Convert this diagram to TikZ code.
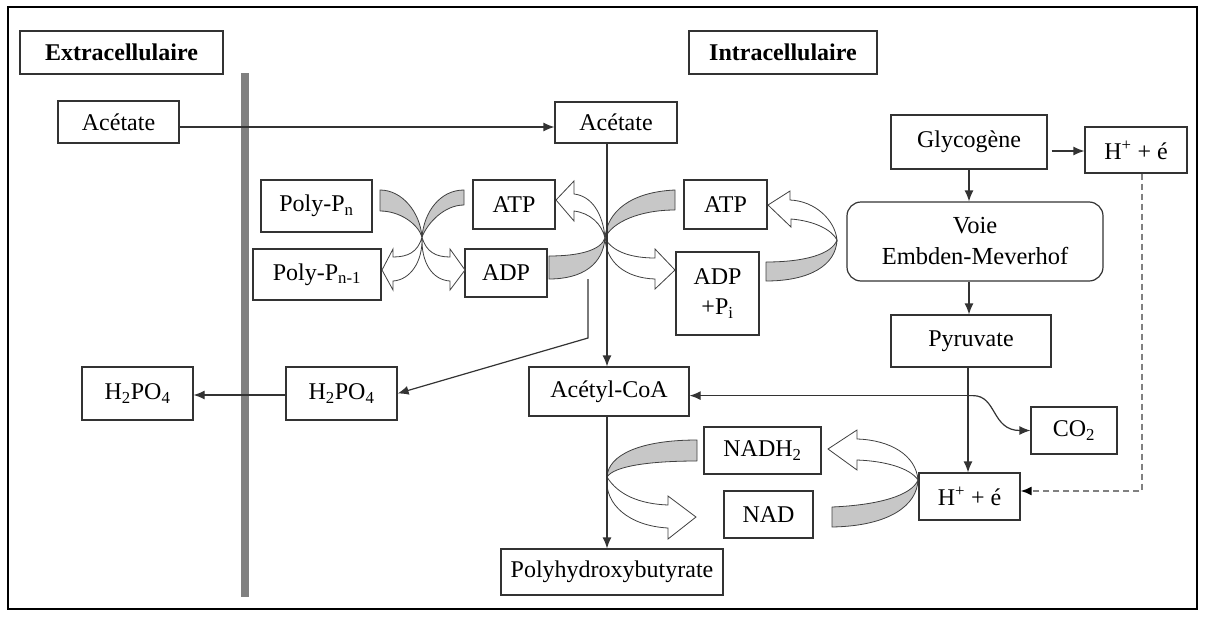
\documentclass[tikz,border=0pt]{standalone}
\usepackage{fontspec}
\setmainfont{Liberation Serif}
\usetikzlibrary{arrows.meta,calc}
\newcommand\bodyfont{\fontsize{24}{27}\selectfont}
\begin{document}
\begin{tikzpicture}[x=1pt,y=-1pt,
  box/.style={draw=black!80, line width=1.2pt, fill=white, inner sep=0pt,
              font=\bodyfont, align=center},
  roundbox/.style={box, rounded corners=14pt},
  conn/.style={draw=black!80, line width=1.2pt, -{Latex[length=11pt,width=9pt]}},
  hint/.style={draw=black!50, line width=1.8pt, dash pattern=on 6pt off 4pt,
               -{Latex[length=11pt,width=9pt,color=black]}},
  band/.style={fill=black!22, draw=black!75, line width=0.8pt, line join=round},
  arrowfront/.style={fill=white, draw=black!75, line width=0.8pt, line join=miter},
]
\useasboundingbox (0,0) rectangle (1205,616);
\draw[line width=2.5pt] (8,7) rectangle (1197,609);

% cell membrane
\fill[black!50] (241,73) rectangle (249,597);

% compartments
\node[box, minimum width=203pt, minimum height=43pt, font=\bodyfont\bfseries] (extra) at (121.5,52.5) {Extracellulaire};
\node[box, minimum width=188pt, minimum height=43pt, font=\bodyfont\bfseries] (intra) at (783,52.5) {Intracellulaire};

% metabolites
\node[box, minimum width=121pt, minimum height=42pt] (acL) at (118.5,122) {Acétate};
\node[box, minimum width=122pt, minimum height=41pt] (acR) at (616,122.5) {Acétate};
\node[box, minimum width=156pt, minimum height=54pt] (glyco) at (969,142) {Glycogène};
\node[box, minimum width=102pt, minimum height=46pt] (hTop) at (1136,150) {H\textsuperscript{+} + é};
\node[roundbox, minimum width=256pt, minimum height=79pt, font=\fontsize{24.5}{31}\selectfont] (voie) at (975,241.5) {Voie\\Embden-Meverhof};
\node[box, minimum width=160pt, minimum height=52pt] (pyr) at (971,341) {Pyruvate};
\node[box, minimum width=86pt, minimum height=47pt] (co2) at (1074,430.5) {CO\textsubscript{2}};
\node[box, minimum width=101pt, minimum height=47pt] (hBot) at (969.5,496.5) {H\textsuperscript{+} + é};
\node[box, minimum width=160pt, minimum height=49pt] (acCoA) at (609,391.5) {Acétyl-CoA};
\node[box, minimum width=222pt, minimum height=46pt] (phb) at (612,572) {Polyhydroxybutyrate};
\node[box, minimum width=117pt, minimum height=47pt] (nadh) at (762.5,450.5) {NADH\textsubscript{2}};
\node[box, minimum width=89pt, minimum height=47pt] (nad) at (768.5,514.5) {NAD};
\node[box, minimum width=82pt, minimum height=49pt] (atpL) at (514,204.5) {ATP};
\node[box, minimum width=82pt, minimum height=48pt] (adpL) at (506,273) {ADP};
\node[box, minimum width=111pt, minimum height=52pt] (ppn) at (316.5,206) {Poly-P\textsubscript{n}};
\node[box, minimum width=128pt, minimum height=51pt] (ppn1) at (317,274.5) {Poly-P\textsubscript{n-1}};
\node[box, minimum width=83pt, minimum height=49pt] (atpR) at (725.5,204.5) {ATP};
\node[box, minimum width=83pt, minimum height=83pt, font=\fontsize{24}{30}\selectfont] (adpPi) at (717.5,293.5) {ADP\\+P\textsubscript{i}};
\node[box, minimum width=111pt, minimum height=53pt] (h2L) at (137.5,393.5) {H\textsubscript{2}PO\textsubscript{4}};
\node[box, minimum width=111pt, minimum height=53pt] (h2R) at (341.5,393.5) {H\textsubscript{2}PO\textsubscript{4}};

% curved block arrows: shaded back part, then white front part with head
% Poly-Pn -> ADP
\path[band] (380,190) .. controls (402,190) and (420,212) .. (422,237)
            .. controls (418,224) and (400,211) .. (380,211) -- cycle;
% ATP -> Poly-Pn-1
\path[band] (464,190) .. controls (440,190) and (424,212) .. (422,237)
            .. controls (428,222) and (445,205) .. (464,205) -- cycle;
\path[arrowfront] (422,237) .. controls (426,252) and (436,257) .. (450,257)
   -- (450,249) -- (465,270) -- (450,290) -- (450,281)
   .. controls (432,280) and (421,262) .. (422,237) -- cycle;
\path[arrowfront] (422,237) .. controls (418,252) and (408,257) .. (393,257)
   -- (393,249) -- (382,270) -- (393,290) -- (393,281)
   .. controls (410,280) and (423,262) .. (422,237) -- cycle;

% ADP -> ATP (left)
\path[band] (549,256) .. controls (580,256) and (601,250) .. (605,238)
            .. controls (603,264) and (583,279) .. (549,279) -- cycle;
% ATP (right) -> ADP + Pi
\path[band] (675,190) .. controls (630,192) and (607,212) .. (605,238)
            .. controls (612,222) and (640,210) .. (675,210) -- cycle;
\path[arrowfront] (605,238) .. controls (603,214) and (592,196) .. (574,194)
   -- (574,181) -- (556,200) -- (574,221) -- (574,211)
   .. controls (590,213) and (602,224) .. (605,238) -- cycle;
\path[arrowfront] (605,238) .. controls (612,252) and (632,258) .. (655,258)
   -- (655,249) -- (675,270) -- (655,289) -- (655,279)
   .. controls (625,278) and (606,262) .. (605,238) -- cycle;

% ADP + Pi -> ATP (right)
\path[band] (766,262) .. controls (805,262) and (832,254) .. (837,240)
            .. controls (836,265) and (810,281) .. (766,281) -- cycle;
\path[arrowfront] (837,240) .. controls (835,220) and (815,201) .. (790,200)
   -- (790,191) -- (768,205) -- (791,227) -- (791,219)
   .. controls (815,221) and (832,230) .. (837,240) -- cycle;

% NADH2 -> NAD
\path[band] (697,440) .. controls (640,440) and (608,455) .. (607,477)
            .. controls (614,466) and (650,461) .. (697,461) -- cycle;
\path[arrowfront] (607,477) .. controls (618,495) and (640,504) .. (668,505)
   -- (668,496) -- (696,517) -- (668,539) -- (668,528)
   .. controls (630,526) and (604,505) .. (607,477) -- cycle;

% NAD -> NADH2
\path[band] (832,507) .. controls (880,505) and (912,495) .. (918,480)
            .. controls (917,505) and (890,526) .. (832,527) -- cycle;
\path[arrowfront] (918,480) .. controls (916,455) and (890,440) .. (857,439)
   -- (857,430) -- (828,449) -- (857,470) -- (857,460)
   .. controls (885,461) and (910,468) .. (918,480) -- cycle;

% connectors
\draw[conn] ($(acL.east)+(0,5)$) -- ($(acR.west)+(0,4.5)$);
\coordinate (v1) at ($(acR.south)+(-9,0)$);
\draw[conn] (v1) -- (v1 |- acCoA.north);
\coordinate (v2) at ($(acCoA.south)+(-2,0)$);
\draw[conn] (v2) -- (v2 |- phb.north);

\coordinate (dp) at (588,279);
\coordinate (dpk) at (588,338);
\draw[conn] (dp) -- (dpk) -- (h2R.east);
\draw[conn] ($(h2R.west)+(0,1.5)$) -- ($(h2L.east)+(0,1.5)$);

\draw[conn] ($(glyco.east)+(4,9)$) -- ($(hTop.west)+(0,1)$);
\draw[conn] (glyco.south) -- (glyco.south |- voie.north);
\draw[conn] (voie.south -| glyco.south) -- (pyr.north -| glyco.south);
\coordinate (pj) at ($(pyr.south)+(-3,0)$);
\draw[conn] (pj) -- (pj |- hBot.north);
\coordinate (jn) at ($(pj)+(0,28)$);
\draw[conn] (jn) -- (jn -| acCoA.east);
\draw[conn] (jn) -- ($(jn)+(5,0)$) .. controls ($(jn)+(29,0)$) and ($(co2.west)+(-39,0)$) .. (co2.west);

\draw[hint] ($(hTop.south)+(6,0)$) |- ($(hBot.east)+(0,-5.5)$);
\end{tikzpicture}
\end{document}
